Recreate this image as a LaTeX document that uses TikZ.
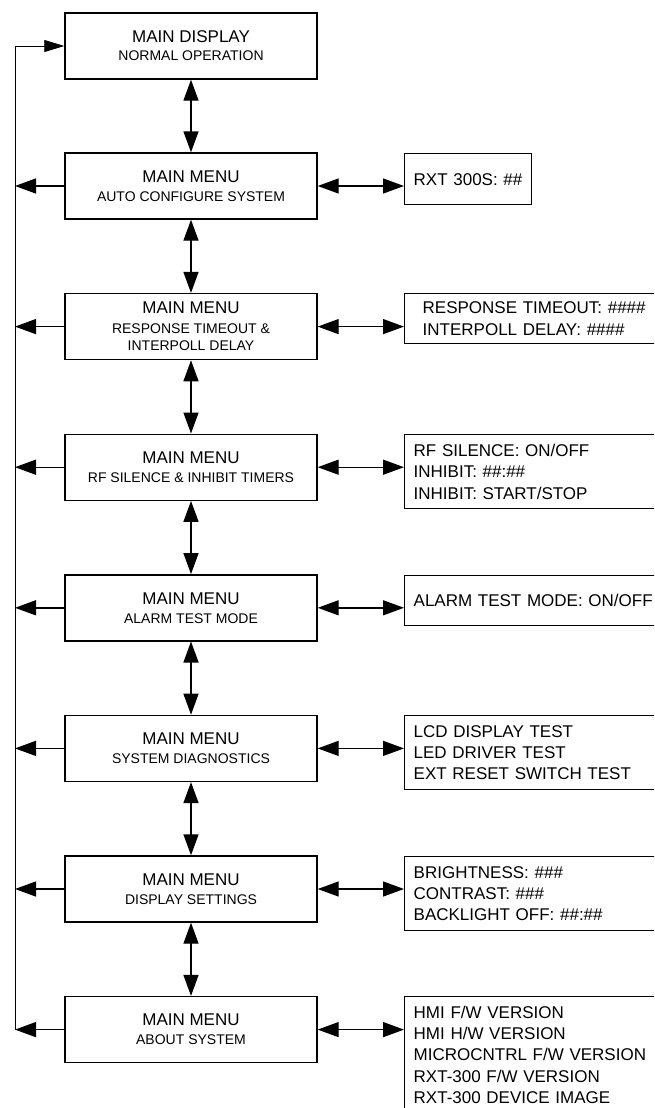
\documentclass[tikz,border=0pt]{standalone}
\usepackage{fontspec}
\setmainfont{Liberation Sans}
\usetikzlibrary{arrows.meta}

\newcommand{\ttl}[1]{{\fontsize{17}{17}\selectfont #1}}

\begin{document}
\begin{tikzpicture}[x=1pt,y=-1pt,
    menu/.style={draw,line width=1.4pt,minimum width=252pt,minimum height=66pt,
        inner sep=0pt,align=center,font=\fontsize{14}{17}\selectfont},
    info/.style={draw,line width=1.4pt,anchor=north west,inner xsep=9pt,inner ysep=0pt,
        text width=252pt,minimum height=74pt,align=left,font=\fontsize{17}{21.3}\selectfont},
    link/.style={line width=1.4pt,{Triangle[length=21pt,width=15pt]}-{Triangle[length=21pt,width=15pt]}},
    back/.style={line width=1.4pt,-{Triangle[length=21pt,width=15pt]}}]
    \useasboundingbox (0,0) rectangle (654,1108);
    \clip (0,0) rectangle (654,1108);

    \node[menu] (disp) at (191,46) {\ttl{MAIN DISPLAY}\\[1pt]NORMAL OPERATION};
    \node[menu] (m1) at (191,186) {\ttl{MAIN MENU}\\[2pt]AUTO CONFIGURE SYSTEM};
    \node[menu] (m2) at (191,326.6) {\ttl{MAIN MENU}\\[3pt]RESPONSE TIMEOUT \&\\INTERPOLL DELAY};
    \node[menu] (m3) at (191,467.2) {\ttl{MAIN MENU}\\[2pt]RF SILENCE \& INHIBIT TIMERS};
    \node[menu] (m4) at (191,607.8) {\ttl{MAIN MENU}\\[2pt]ALARM TEST MODE};
    \node[menu] (m5) at (191,748.4) {\ttl{MAIN MENU}\\[2pt]SYSTEM DIAGNOSTICS};
    \node[menu] (m6) at (191,889) {\ttl{MAIN MENU}\\[2pt]DISPLAY SETTINGS};
    \node[menu] (m7) at (191,1029.6) {\ttl{MAIN MENU}\\[2pt]ABOUT SYSTEM};

    \node[info,text width=109pt,minimum height=51pt] (i1) at (404,153) {RXT 300S: \#\#};
    \node[info,inner xsep=18pt,text width=234pt,minimum height=50pt] (i2) at (404,293)
        {RESPONSE TIMEOUT: \#\#\#\#\\INTERPOLL DELAY: \#\#\#\#};
    \node[info] (i3) at (404,434) {RF SILENCE: ON/OFF\\INHIBIT: \#\#:\#\#\\INHIBIT: START/STOP};
    \node[info,minimum height=50pt] (i4) at (404,575) {ALARM TEST MODE: ON/OFF};
    \node[info] (i5) at (404,715) {LCD DISPLAY TEST\\LED DRIVER TEST\\EXT RESET SWITCH TEST};
    \node[info] (i6) at (404,856) {BRIGHTNESS: \#\#\#\\CONTRAST: \#\#\#\\BACKLIGHT OFF: \#\#:\#\#};
    \node[info,minimum height=116pt] (i7) at (404,996) {HMI F/W VERSION\\HMI H/W VERSION\\MICROCNTRL F/W VERSION\\RXT-300 F/W VERSION\\RXT-300 DEVICE IMAGE};

    \coordinate (bus) at (15,46);

    \draw[link] (disp.south) -- (m1.north);
    \draw[link] (m1.south) -- (m2.north);
    \draw[link] (m2.south) -- (m3.north);
    \draw[link] (m3.south) -- (m4.north);
    \draw[link] (m4.south) -- (m5.north);
    \draw[link] (m5.south) -- (m6.north);
    \draw[link] (m6.south) -- (m7.north);

    \draw[link] (m1.east) -- (m1.east -| i1.west);
    \draw[link] (m2.east) -- (m2.east -| i2.west);
    \draw[link] (m3.east) -- (m3.east -| i3.west);
    \draw[link] (m4.east) -- (m4.east -| i4.west);
    \draw[link] (m5.east) -- (m5.east -| i5.west);
    \draw[link] (m6.east) -- (m6.east -| i6.west);
    \draw[link] (m7.east) -- (m7.east -| i7.west);

    \draw[back] (m1.west) -- (m1.west -| bus);
    \draw[back] (m2.west) -- (m2.west -| bus);
    \draw[back] (m3.west) -- (m3.west -| bus);
    \draw[back] (m4.west) -- (m4.west -| bus);
    \draw[back] (m5.west) -- (m5.west -| bus);
    \draw[back] (m6.west) -- (m6.west -| bus);
    \draw[back] (m7.west) -- (m7.west -| bus);

    \draw[line width=0.8pt,-{Triangle[length=20pt,width=12pt]}] (m7.west -| bus) -- (bus) -- (disp.west);
\end{tikzpicture}
\end{document}
